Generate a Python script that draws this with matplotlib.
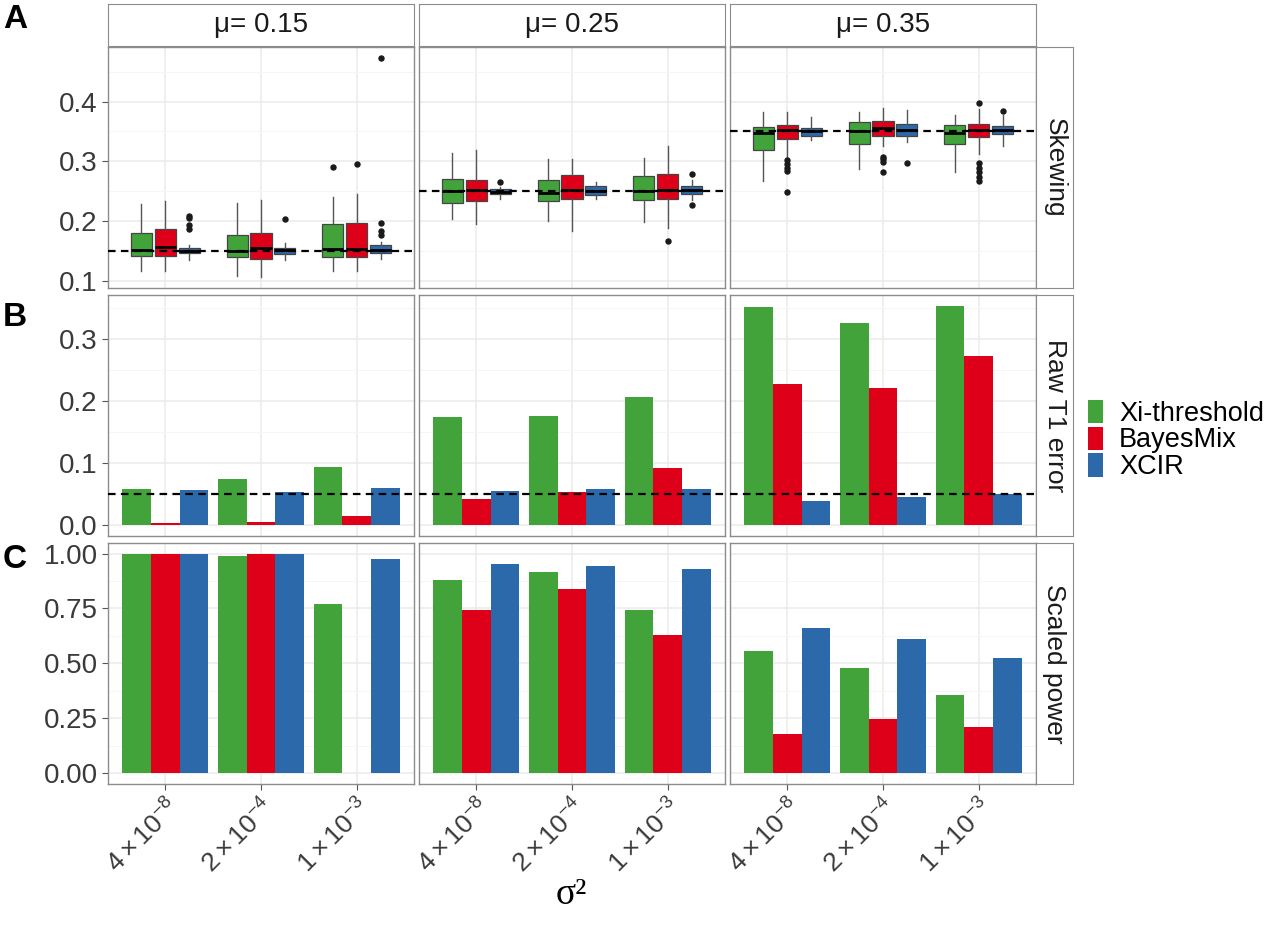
import matplotlib
matplotlib.use('Agg')
import matplotlib.pyplot as plt
from matplotlib.patches import Patch

plt.rcParams['font.family'] = ['Liberation Sans', 'DejaVu Sans']
plt.rcParams['mathtext.fontset'] = 'custom'
plt.rcParams['mathtext.rm'] = 'Liberation Sans'
plt.rcParams['mathtext.it'] = 'Liberation Sans:italic'
plt.rcParams['mathtext.bf'] = 'Liberation Sans:bold'

# labels
methods = ['Xi-threshold', 'BayesMix', 'XCIR']
colors = ['#41A33A', '#DE0019', '#2C69AB']
mu_values = [0.15, 0.25, 0.35]
mu_labels = ['\u03bc= 0.15', '\u03bc= 0.25', '\u03bc= 0.35']
sigma_labels = [r'$4\times10^{-8}$', r'$2\times10^{-4}$', r'$1\times10^{-3}$']
row_labels = ['Skewing', 'Raw T1 error', 'Scaled power']
panel_letters = ['A', 'B', 'C']
alpha_level = 0.05

# skewing boxplots, 9 cells ordered mu then sigma2: (whislo, q1, med, q3, whishi)
xi_box = [(0.117, 0.1405, 0.152, 0.180, 0.228), (0.108, 0.139, 0.1505, 0.176, 0.2305),
          (0.1155, 0.139, 0.153, 0.195, 0.2395),
          (0.203, 0.2305, 0.2505, 0.270, 0.314), (0.200, 0.234, 0.247, 0.268, 0.303),
          (0.1983, 0.235, 0.2505, 0.275, 0.306),
          (0.2667, 0.3195, 0.347, 0.358, 0.3817), (0.2862, 0.3283, 0.3505, 0.365, 0.383),
          (0.282, 0.3283, 0.347, 0.360, 0.378)]
bayes_box = [(0.117, 0.1405, 0.156, 0.186, 0.233), (0.106, 0.137, 0.154, 0.180, 0.2345),
             (0.117, 0.139, 0.153, 0.1967, 0.2455),
             (0.1945, 0.234, 0.2517, 0.269, 0.3195), (0.183, 0.2367, 0.2517, 0.277, 0.304),
             (0.188, 0.2367, 0.2517, 0.278, 0.326),
             (0.3045, 0.337, 0.3528, 0.3605, 0.3817), (0.325, 0.343, 0.356, 0.368, 0.3895),
             (0.3128, 0.3405, 0.3517, 0.3628, 0.3883)]
xcir_box = [(0.135, 0.146, 0.1505, 0.1555, 0.160), (0.135, 0.1445, 0.151, 0.155, 0.163),
            (0.137, 0.1455, 0.152, 0.159, 0.1655),
            (0.236, 0.2455, 0.249, 0.2533, 0.257), (0.237, 0.2433, 0.2505, 0.259, 0.2655),
            (0.235, 0.245, 0.2517, 0.259, 0.268),
            (0.335, 0.343, 0.3505, 0.356, 0.374), (0.332, 0.343, 0.3517, 0.3617, 0.386),
            (0.325, 0.345, 0.3528, 0.3595, 0.3767)]
xi_out = [[], [], [0.291], [], [], [], [], [], []]
bayes_out = [[], [], [0.2955], [], [], [0.167],
             [0.3017, 0.296, 0.2895, 0.284, 0.248], [0.307, 0.303, 0.299, 0.282],
             [0.297, 0.2895, 0.2817, 0.274, 0.267, 0.398]]
xcir_out = [[0.208, 0.2045, 0.193, 0.186], [0.203], [0.197, 0.183, 0.177, 0.473],
            [0.266], [], [0.278, 0.2267], [], [0.2972], [0.3845]]

# raw type 1 error
xi_t1 = [0.059, 0.074, 0.093, 0.175, 0.177, 0.207, 0.352, 0.326, 0.354]
bayes_t1 = [0.003, 0.005, 0.014, 0.042, 0.053, 0.092, 0.228, 0.222, 0.273]
xcir_t1 = [0.057, 0.053, 0.060, 0.0555, 0.058, 0.059, 0.039, 0.046, 0.050]

# scaled power
xi_pow = [0.998, 0.991, 0.770, 0.879, 0.917, 0.742, 0.557, 0.477, 0.355]
bayes_pow = [0.998, 0.998, 0.0, 0.743, 0.837, 0.628, 0.178, 0.245, 0.2085]
xcir_pow = [0.998, 0.998, 0.977, 0.953, 0.944, 0.930, 0.662, 0.610, 0.526]

box_data = [xi_box, bayes_box, xcir_box]
out_data = [xi_out, bayes_out, xcir_out]
bar_data = [[xi_t1, bayes_t1, xcir_t1], [xi_pow, bayes_pow, xcir_pow]]

W, H = 1280, 926
fig = plt.figure(figsize=(W / 100, H / 100), dpi=100)


def add_ax(x, y, w, h):
    return fig.add_axes([x / W, 1 - (y + h) / H, w / W, h / H])


col_left = [108, 419, 730]
col_w = 306
row_top = [47, 295, 543]
row_h = 241
border = '#8C8C8C'
tick_col = '#3A3A3A'

yticks = [[0.1, 0.2, 0.3, 0.4], [0.0, 0.1, 0.2, 0.3], [0.0, 0.25, 0.5, 0.75, 1.0]]
yticklabels = [['0.1', '0.2', '0.3', '0.4'], ['0.0', '0.1', '0.2', '0.3'],
               ['0.00', '0.25', '0.50', '0.75', '1.00']]
yminor = [[0.15, 0.25, 0.35, 0.45], [0.05, 0.15, 0.25, 0.35],
          [0.125, 0.375, 0.625, 0.875]]
ylims = [(0.0877, 0.4913), (-0.0177, 0.3717), (-0.05, 1.048)]
xpos = [1, 2, 3]
offsets = [-0.3, 0.0, 0.3]
box_off = [-0.25, 0.0, 0.25]

for r in range(3):
    for c in range(3):
        ax = add_ax(col_left[c], row_top[r], col_w, row_h)

        if r == 0:
            for m in range(3):
                stats = []
                for s in range(3):
                    lo, q1, med, q3, hi = box_data[m][c * 3 + s]
                    stats.append({'whislo': lo, 'q1': q1, 'med': med, 'q3': q3,
                                  'whishi': hi, 'fliers': out_data[m][c * 3 + s]})
                ax.bxp(stats, positions=[p + box_off[m] for p in xpos], widths=0.22,
                       patch_artist=True, showcaps=False, manage_ticks=False,
                       boxprops=dict(facecolor=colors[m], edgecolor='#444444', linewidth=0.9),
                       whiskerprops=dict(color='#555555', linewidth=1.0),
                       medianprops=dict(color='black', linewidth=2.0),
                       flierprops=dict(marker='o', markerfacecolor='#1A1A1A',
                                       markeredgecolor='#1A1A1A', markersize=3.6))
            ax.axhline(mu_values[c], color='black', linewidth=1.6,
                       linestyle=(0, (3.4, 2.4)), zorder=5)
        else:
            vals = bar_data[r - 1]
            for m in range(3):
                ax.bar([p + offsets[m] for p in xpos], vals[m][c * 3:c * 3 + 3], width=0.3,
                       color=colors[m], zorder=2)
            if r == 1:
                ax.axhline(alpha_level, color='black', linewidth=1.6,
                           linestyle=(0, (3.4, 2.4)), zorder=5)

        ax.set_xlim(0.4, 3.6)
        ax.set_ylim(*ylims[r])
        ax.set_yticks(yticks[r])
        ax.set_yticks(yminor[r], minor=True)
        ax.set_xticks(xpos)
        ax.grid(True, which='major', color='#EBEBEB', linewidth=1.1, zorder=0)
        ax.grid(True, which='minor', axis='y', color='#F5F5F5', linewidth=0.7, zorder=0)
        ax.set_axisbelow(True)
        for s in ax.spines.values():
            s.set_color(border)
            s.set_linewidth(1.0)
        ax.tick_params(which='minor', length=0)
        ax.tick_params(which='major', length=4, color='#555555', width=0.8,
                       labelsize=20, labelcolor=tick_col)
        if c == 0:
            ax.set_yticklabels(yticklabels[r])
        else:
            ax.tick_params(axis='y', length=0, labelleft=False)
        if r == 2:
            ax.set_xticklabels(sigma_labels, rotation=45, ha='right', va='top',
                               rotation_mode='anchor', fontsize=19)
        else:
            ax.tick_params(axis='x', length=0, labelbottom=False)

    # right strip
    sax = add_ax(1036, row_top[r], 37, row_h)
    sax.set_xticks([])
    sax.set_yticks([])
    for s in sax.spines.values():
        s.set_color(border)
    sax.text(0.5, 0.5, row_labels[r], rotation=-90, ha='center', va='center',
             fontsize=19, color='#1A1A1A', transform=sax.transAxes)
    fig.text(3 / W, 1 - [20, 318, 560][r] / H, panel_letters[r], fontsize=24,
             fontweight='bold', ha='left', va='center')

# top strips
for c in range(3):
    sax = add_ax(col_left[c], 4, col_w, 42)
    sax.set_xticks([])
    sax.set_yticks([])
    for s in sax.spines.values():
        s.set_color(border)
    sax.text(0.5, 0.5, mu_labels[c], ha='center', va='center', fontsize=20,
             color='#1A1A1A', transform=sax.transAxes)

fig.text(571 / W, 1 - 895 / H, '\u03c3\u00b2', family=['Liberation Serif', 'DejaVu Serif'],
         fontsize=27, ha='center', va='center')

handles = [Patch(facecolor=col, edgecolor='none') for col in colors]
fig.legend(handles, methods, loc='center left', bbox_to_anchor=(1088 / W, 1 - 440 / H),
           frameon=False, fontsize=19.5, handlelength=0.55, handleheight=0.95,
           labelspacing=0.0, handletextpad=0.6, borderpad=0, borderaxespad=0)

fig.savefig('out.png', dpi=100)
